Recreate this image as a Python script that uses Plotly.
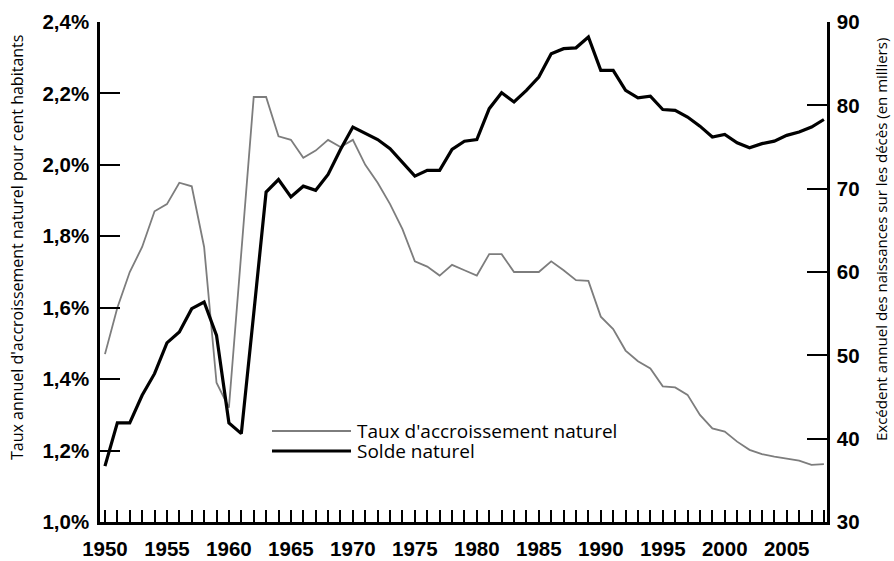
import plotly.graph_objects as go

years = list(range(1950, 2009))

taux = [1.47, 1.60, 1.70, 1.77, 1.87, 1.89, 1.95, 1.94, 1.77, 1.39,
        1.32, 1.76, 2.19, 2.19, 2.08, 2.07, 2.02, 2.04, 2.07, 2.05,
        2.07, 2.00, 1.95, 1.89, 1.82, 1.73, 1.715, 1.69, 1.72, 1.705,
        1.69, 1.75, 1.75, 1.70, 1.70, 1.70, 1.73, 1.705, 1.677, 1.675,
        1.575, 1.54, 1.48, 1.45, 1.43, 1.38, 1.377, 1.356, 1.30, 1.262,
        1.253, 1.225, 1.202, 1.19, 1.183, 1.178, 1.172, 1.16, 1.162]

solde = [36.7, 41.9, 41.9, 45.2, 47.8, 51.5, 52.8, 55.6, 56.4, 52.4,
         41.9, 40.6, 55.0, 69.6, 71.1, 69.0, 70.3, 69.8, 71.7, 74.7,
         77.4, 76.6, 75.9, 74.8, 73.1, 71.5, 72.2, 72.2, 74.7, 75.7,
         75.9, 79.6, 81.5, 80.4, 81.8, 83.4, 86.2, 86.8, 86.9, 88.2,
         84.2, 84.2, 81.8, 80.9, 81.1, 79.5, 79.4, 78.6, 77.5, 76.2,
         76.5, 75.5, 74.9, 75.4, 75.7, 76.4, 76.8, 77.4, 78.3]

left_tickvals = [1.0, 1.2, 1.4, 1.6, 1.8, 2.0, 2.2, 2.4]
left_ticktext = ["1,0%", "1,2%", "1,4%", "1,6%", "1,8%", "2,0%", "2,2%", "2,4%"]
right_tickvals = [30, 40, 50, 60, 70, 80, 90]
x_tickvals = [1950, 1955, 1960, 1965, 1970, 1975, 1980, 1985, 1990, 1995, 2000, 2005]

series_names = ["Taux d'accroissement naturel", "Solde naturel"]
left_title = "Taux annuel d'accroissement naturel pour cent habitants"
right_title = "Excédent annuel des naissances sur les décès (en milliers)"

GREY = "#7d7d7d"
TICKFONT = dict(family="Liberation Sans, Arial, sans-serif", size=20.5,
                color="black", weight="bold")
TEXTFONT = "Open Sans, Noto Sans, sans-serif"

fig = go.Figure()
fig.add_trace(go.Scatter(x=years, y=taux, mode="lines", name=series_names[0],
                         line=dict(color=GREY, width=1.8), yaxis="y"))
fig.add_trace(go.Scatter(x=years, y=solde, mode="lines", name=series_names[1],
                         line=dict(color="black", width=3.2), yaxis="y2"))

W, H = 894, 561
L, R, T, B = 100, 67, 22, 39
pw, ph = W - L - R, H - T - B

def px(xp):
    return (xp - L) / pw

def py(yp):
    return (H - B - yp) / ph

fig.update_layout(
    width=W, height=H,
    margin=dict(l=L, r=R, t=T, b=B, autoexpand=False),
    paper_bgcolor="white", plot_bgcolor="white",
    showlegend=False,
    xaxis=dict(range=[1949.6, 2008.25], tickvals=x_tickvals,
               ticks="inside", ticklen=12, tickwidth=2, tickcolor="black",
               minor=dict(dtick=1, tick0=1950, ticks="inside", ticklen=12,
                          tickwidth=2, tickcolor="black", showgrid=False),
               showline=True, linecolor="black", linewidth=2.5,
               showgrid=False, zeroline=False, tickfont=TICKFONT,
               ticklabelstandoff=7, automargin=False),
    yaxis=dict(range=[1.0, 2.4], tickvals=left_tickvals, ticktext=left_ticktext,
               ticks="inside", ticklen=20, tickwidth=2, tickcolor="black",
               showline=True, linecolor="black", linewidth=2.5,
               showgrid=False, zeroline=False, tickfont=TICKFONT,
               ticklabelstandoff=4, automargin=False),
    yaxis2=dict(range=[30, 90], tickvals=right_tickvals, overlaying="y", side="right",
                ticks="inside", ticklen=20, tickwidth=2, tickcolor="black",
                showline=True, linecolor="black", linewidth=2.5,
                showgrid=False, zeroline=False, tickfont=TICKFONT,
                ticklabelstandoff=3, automargin=False),
)

# Axis titles
fig.add_annotation(text=left_title, xref="paper", yref="paper",
                   x=px(17), y=py(248), textangle=-90, showarrow=False,
                   font=dict(family=TEXTFONT, size=16, color="black"),
                   xanchor="center", yanchor="middle")
fig.add_annotation(text=right_title, xref="paper", yref="paper",
                   x=px(881), y=py(240), textangle=-90, showarrow=False,
                   font=dict(family=TEXTFONT, size=15, color="black"),
                   xanchor="center", yanchor="middle")

# Legend (drawn manually to match the long sample lines)
leg_rows = [431, 451]
leg_styles = [dict(color=GREY, width=1.8), dict(color="black", width=3.2)]
for name, yrow, st in zip(series_names, leg_rows, leg_styles):
    fig.add_shape(type="line", xref="paper", yref="paper",
                  x0=px(272), x1=px(351), y0=py(yrow), y1=py(yrow), line=st)
    fig.add_annotation(text=name, xref="paper", yref="paper",
                       x=px(356), y=py(yrow), showarrow=False,
                       xanchor="left", yanchor="middle", borderpad=0,
                       font=dict(family=TEXTFONT, size=19, color="black"))

fig.write_html("out.html", config={"displayModeBar": False},
               post_script="document.body.style.margin='0';")
